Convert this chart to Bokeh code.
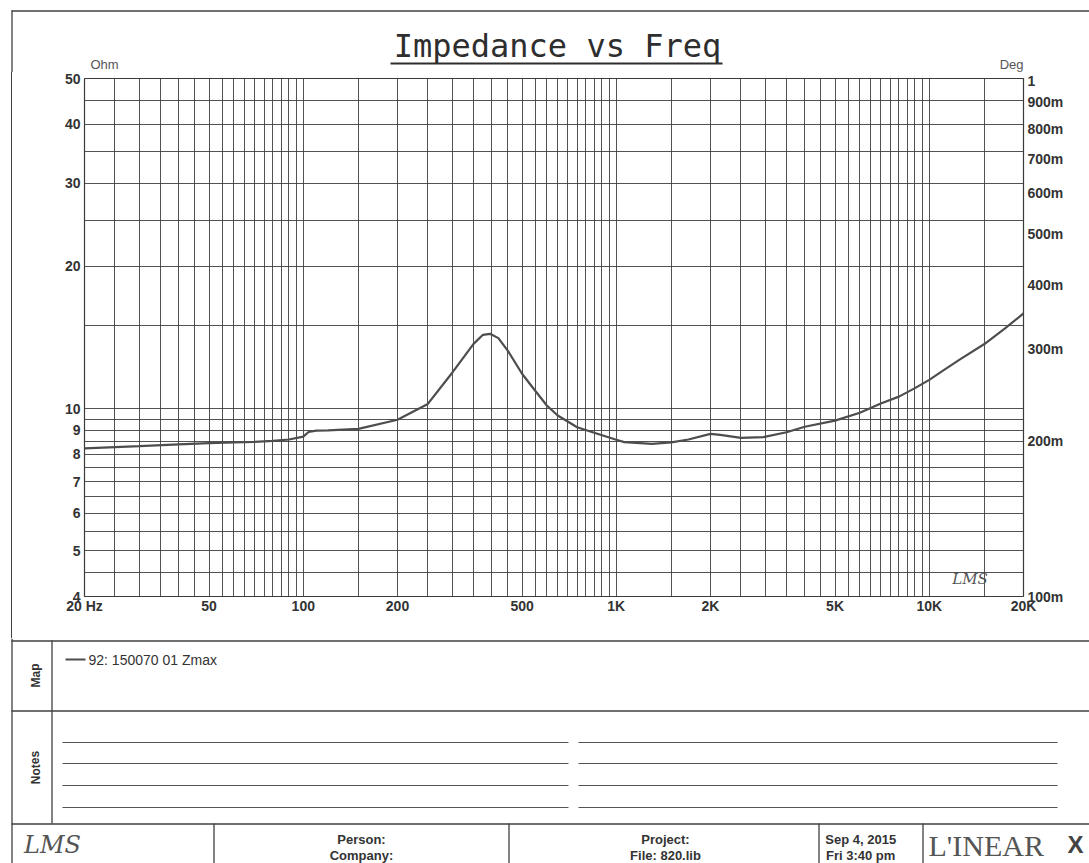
from bokeh.plotting import figure
from bokeh.layouts import column, row
from bokeh.models import Range1d, LogAxis, LogScale, FixedTicker, Div
from bokeh.core.properties import value
from bokeh.embed import file_html
from bokeh.resources import INLINE

# ---------------- data ----------------
freq_hz = [20, 30, 40, 50, 60, 70, 80, 90, 100, 104, 110, 120, 150, 200, 250,
           300, 350, 375, 395, 420, 450, 500, 550, 600, 650, 750, 850, 1000,
           1060, 1300, 1500, 1700, 2000, 2150, 2500, 2950, 3500, 4000, 5000,
           6000, 7000, 8000, 9000, 10000, 11000, 12500, 15000, 17500, 20000]
impedance_ohm = [8.24, 8.33, 8.40, 8.45, 8.48, 8.50, 8.54, 8.60, 8.72, 8.92,
                 8.98, 8.99, 9.06, 9.47, 10.23, 11.94, 13.71, 14.33, 14.40,
                 14.10, 13.27, 11.85, 10.92, 10.15, 9.67, 9.13, 8.89, 8.59,
                 8.49, 8.42, 8.48, 8.60, 8.84, 8.80, 8.67, 8.70, 8.91, 9.15,
                 9.43, 9.80, 10.25, 10.60, 11.05, 11.50, 12.00, 12.70, 13.70,
                 14.80, 15.90]

x_tick_values = [20, 50, 100, 200, 500, 1000, 2000, 5000, 10000, 20000]
x_tick_labels = ["20 Hz", "50", "100", "200", "500", "1K", "2K", "5K", "10K", "20K"]
ohm_tick_values = [4, 5, 6, 7, 8, 9, 10, 20, 30, 40, 50]
ohm_tick_labels = ["4", "5", "6", "7", "8", "9", "10", "20", "30", "40", "50"]
deg_tick_values = [0.1, 0.2, 0.3, 0.4, 0.5, 0.6, 0.7, 0.8, 0.9, 1.0]
deg_tick_labels = ["100m", "200m", "300m", "400m", "500m", "600m", "700m",
                   "800m", "900m", "1"]

legend_text = "92: 150070 01 Zmax"
footer_texts = ["Person:", "Company:", "Project:", "File: 820.lib",
                "Sep  4, 2015", "Fri  3:40 pm"]

# grid positions (every half step of each decade)
grid_x_values = ([20 + 5 * i for i in range(17)] + [150 + 50 * i for i in range(18)]
                 + [1500 + 500 * i for i in range(18)] + [15000, 20000])
grid_y_values = [4 + 0.5 * i for i in range(13)] + [15 + 5 * i for i in range(8)]

INK = "#333333"
LINE = "#404040"
FONT = "Liberation Sans"
W = 1089
H_TOTAL = 863


def canvas_fig(w, h):
    f = figure(width=w, height=h, x_range=Range1d(0, w), y_range=Range1d(h, 0),
               toolbar_location=None, output_backend="svg",
               x_axis_location=None, y_axis_location=None, title=None,
               min_border=0)
    f.min_border_left = f.min_border_right = f.min_border_top = f.min_border_bottom = 0
    f.grid.visible = False
    f.outline_line_color = None
    f.background_fill_color = "white"
    f.border_fill_color = "white"
    return f


# ---------------- header ----------------
H1 = 72
hdr = canvas_fig(W, H1)
hdr.segment(x0=[11, 11.5], y0=[10.5, 10], x1=[W, 11.5], y1=[10.5, H1],
            line_color=LINE, line_width=1.3)
hdr.text(x=[557], y=[45], text=["Impedance vs Freq"], text_align="center",
         text_baseline="middle", text_font=value("DejaVu Sans Mono"),
         text_font_size="32px", text_color="#2e2e2e")
hdr.segment(x0=[390], y0=[63], x1=[722], y1=[63], line_color="#2e2e2e", line_width=2)
hdr.text(x=[90], y=[64], text=["Ohm"], text_align="left", text_baseline="middle",
         text_font=value(FONT), text_font_size="13px", text_color="#555555")
hdr.text(x=[1023], y=[64], text=["Deg"], text_align="right", text_baseline="middle",
         text_font=value(FONT), text_font_size="13px", text_color="#555555")

# ---------------- main chart ----------------
H2 = 566
STRIP_W = 50
p = figure(width=W - STRIP_W, height=H2, x_axis_type="log", y_axis_type="log",
           x_range=Range1d(20, 20000), y_range=Range1d(4, 50),
           toolbar_location=None, output_backend="svg", title=None,
           min_border_left=34, min_border_right=W - STRIP_W - 34 - 939,
           min_border_top=6, min_border_bottom=42)
p.extra_y_ranges = {"deg": Range1d(0.1, 1.0)}
p.extra_y_scales = {"deg": LogScale()}
right_axis = LogAxis(y_range_name="deg")
p.add_layout(right_axis, "right")

p.xaxis.ticker = FixedTicker(ticks=x_tick_values)
p.xaxis.major_label_overrides = dict(zip(x_tick_values, x_tick_labels))
p.yaxis.ticker = FixedTicker(ticks=ohm_tick_values)
p.yaxis.major_label_overrides = dict(zip(ohm_tick_values, ohm_tick_labels))
right_axis.ticker = FixedTicker(ticks=deg_tick_values)
right_axis.major_label_overrides = dict(zip(deg_tick_values, deg_tick_labels))

for ax in p.axis:
    ax.major_tick_in = 0
    ax.major_tick_out = 0
    ax.minor_tick_in = 0
    ax.minor_tick_out = 0
    ax.axis_line_color = None
    ax.major_label_text_font = FONT
    ax.major_label_text_font_size = "14px"
    ax.major_label_text_font_style = "bold"
    ax.major_label_text_color = INK
    ax.major_label_standoff = 4
p.xaxis.major_label_standoff = 1

p.xgrid.ticker = FixedTicker(ticks=grid_x_values)
p.ygrid.ticker = FixedTicker(ticks=grid_y_values)
for g in (p.xgrid, p.ygrid):
    g.grid_line_color = "#3f3f3f"
    g.grid_line_width = 1
    g.grid_line_alpha = 0.9
p.outline_line_color = "#3a3a3a"
p.outline_line_width = 1.2

p.line(freq_hz, impedance_ohm, line_color="#4d4d4d", line_width=2.2)
p.text(x=[13500], y=[4.35], text=["LMS"], text_align="center",
       text_baseline="middle", text_font=value("DejaVu Serif"),
       text_font_style="italic", text_font_size="15px", text_color="#555555")

# left page border beside the chart
strip = Div(text=('<div style="position:absolute;left:11px;top:0;width:1px;'
                  'height:%dpx;background:%s"></div>' % (H2, LINE)),
            width=STRIP_W, height=H2, margin=(0, 0, 0, 0),
            styles={"position": "relative", "background": "white"})

# ---------------- bottom panels (y = page y - 638) ----------------
H3 = H_TOTAL - H1 - H2
bot = canvas_fig(W, H3)
# frame lines: left border, map top, map/notes divider, footer top, label column
bot.segment(x0=[11.5, 11, 11, 11, 51.5],
            y0=[0, 2.5, 72.5, 185.5, 2],
            x1=[11.5, W, W, W, 51.5],
            y1=[H3, 2.5, 72.5, 185.5, 185],
            line_color=LINE, line_width=1.3)
# notes lines
note_y = [104, 125, 147, 169]
bot.segment(x0=[62] * 4 + [578] * 4, y0=note_y + note_y,
            x1=[568] * 4 + [1057] * 4, y1=note_y + note_y,
            line_color="#555555", line_width=1.2)
# footer dividers
fx = [213.5, 508.5, 818.5, 922.5]
bot.segment(x0=fx, y0=[185] * 4, x1=fx, y1=[H3] * 4, line_color=LINE, line_width=1.3)
# Map / Notes labels
bot.text(x=[35, 35], y=[37, 129], text=["Map", "Notes"], angle=1.5708,
         text_align="center", text_baseline="middle", text_font=value(FONT),
         text_font_size="12px", text_font_style="bold", text_color=INK)
# legend entry
bot.segment(x0=[65], y0=[21], x1=[85], y1=[21], line_color="#4d4d4d", line_width=2)
bot.text(x=[88], y=[21], text=[legend_text], text_align="left",
         text_baseline="middle", text_font=value(FONT), text_font_size="14px",
         text_color=INK)
# footer
bot.text(x=[361, 361, 665, 665, 862, 862], y=[201, 217, 201, 217, 201, 217],
         text=footer_texts, text_align="center", text_baseline="middle",
         text_font=value(FONT), text_font_size="13px", text_font_style="bold",
         text_color=INK)
bot.text(x=[52], y=[206], text=["LMS"], text_align="center", text_baseline="middle",
         text_font=value("DejaVu Serif"), text_font_style="italic",
         text_font_size="24px", text_color="#555555")
bot.text(x=[928], y=[207], text=["L'INEAR"], text_align="left",
         text_baseline="middle", text_font=value("Liberation Serif"),
         text_font_size="30px", text_color="#555555")
bot.text(x=[1075], y=[206], text=["X"], text_align="center",
         text_baseline="middle", text_font=value("Liberation Sans"),
         text_font_style="bold", text_font_size="24px", text_color="#444444")

layout = column(hdr, row(strip, p), bot)
open("out.html", "w").write(file_html(layout, INLINE))
